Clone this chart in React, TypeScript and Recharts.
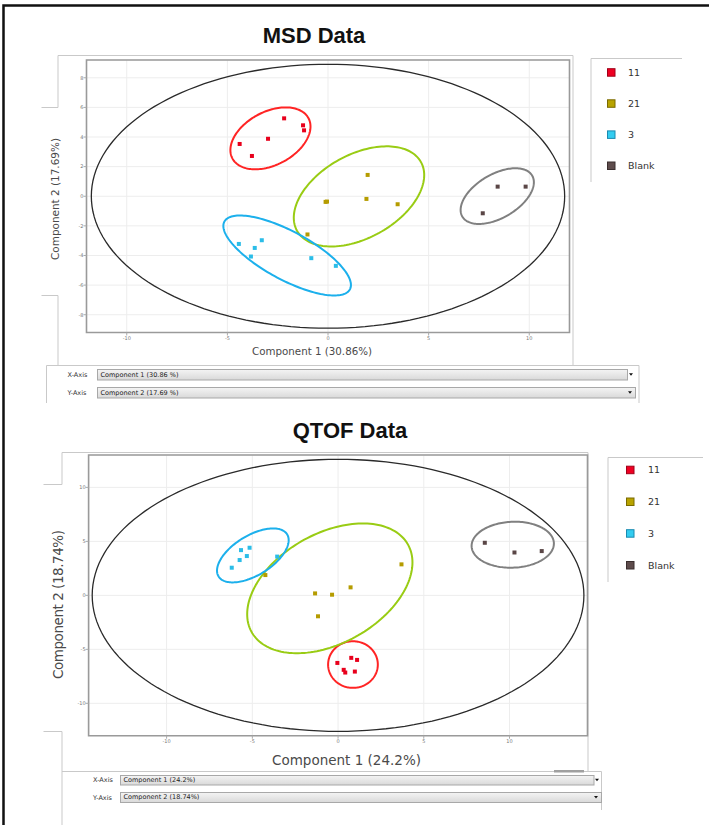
import React from 'react';
import { ScatterChart, Scatter, XAxis, YAxis, CartesianGrid, ReferenceArea } from 'recharts';

type Pt = { x: number; y: number };
type Ell = { cx: number; cy: number; rx: number; ry: number; tilt: number };

// ---------- Groups / legend ----------
const groupNames = ['11', '21', '3', 'Blank'];
const pointColors = ['#e8001c', '#b59c00', '#2bbde8', '#5a4646'];
const legendFills = ['#ee0022', '#b8a300', '#33ccf0', '#5e4c4c'];
const legendStrokes = ['#a00018', '#7a6a00', '#1a8ab0', '#3a2e2e'];
const ellipseColors = ['#ff2424', '#99cc14', '#1cb0ec', '#808080'];

// ---------- MSD data ----------
const msdTitle = 'MSD Data';
const msdXLabel = 'Component 1 (30.86%)';
const msdYLabel = 'Component 2 (17.69%)';
const msdXTicks = [-10, -5, 0, 5, 10];
const msdYTicks = [-8, -6, -4, -2, 0, 2, 4, 6, 8];
const msdXDomain: [number, number] = [-12, 12];
const msdYDomain: [number, number] = [-9.2, 9.2];

const msd11: Pt[] = [
  { x: -4.39, y: 3.53 }, { x: -3.78, y: 2.72 }, { x: -2.98, y: 3.88 },
  { x: -2.18, y: 5.26 }, { x: -1.24, y: 4.79 }, { x: -1.19, y: 4.45 },
];
const msd21: Pt[] = [
  { x: 1.97, y: 1.44 }, { x: -0.12, y: -0.38 }, { x: -0.05, y: -0.36 },
  { x: 1.91, y: -0.18 }, { x: 3.46, y: -0.54 }, { x: -1.02, y: -2.58 },
];
const msd3: Pt[] = [
  { x: -4.43, y: -3.22 }, { x: -3.29, y: -2.97 }, { x: -3.64, y: -3.49 },
  { x: -3.83, y: -4.07 }, { x: -0.83, y: -4.18 }, { x: 0.39, y: -4.7 },
];
const msdBlank: Pt[] = [
  { x: 8.43, y: 0.65 }, { x: 9.82, y: 0.65 }, { x: 7.69, y: -1.15 },
];
const msdOuter: Ell = { cx: 0, cy: 0, rx: 11.76, ry: 8.91, tilt: 0 };
const msdEll11: Ell = { cx: -2.86, cy: 3.91, rx: 1.99, ry: 2.09, tilt: 0.39 };
const msdEll21: Ell = { cx: 1.54, cy: -0.01, rx: 3.24, ry: 3.38, tilt: 0.44 };
const msdEll3: Ell = { cx: -2.03, cy: -4.0, rx: 3.17, ry: 2.7, tilt: -0.83 };
const msdEllBlank: Ell = { cx: 8.41, cy: 0.01, rx: 1.82, ry: 1.88, tilt: 0.52 };

// ---------- QTOF data ----------
const qtofTitle = 'QTOF Data';
const qtofXLabel = 'Component 1 (24.2%)';
const qtofYLabel = 'Component 2 (18.74%)';
const qtofXTicks = [-10, -5, 0, 5, 10];
const qtofYTicks = [-10, -5, 0, 5, 10];
const qtofXDomain: [number, number] = [-14.55, 14.55];
const qtofYDomain: [number, number] = [-13, 13];

const qtof11: Pt[] = [
  { x: -0.04, y: -6.26 }, { x: 0.77, y: -5.79 }, { x: 1.11, y: -5.98 },
  { x: 0.33, y: -6.9 }, { x: 0.42, y: -7.15 }, { x: 0.98, y: -7.06 },
];
const qtof21: Pt[] = [
  { x: -4.24, y: 1.88 }, { x: -1.34, y: 0.18 }, { x: -0.35, y: 0.06 },
  { x: 0.73, y: 0.74 }, { x: -1.17, y: -1.94 }, { x: 3.7, y: 2.87 },
];
const qtof3: Pt[] = [
  { x: -6.2, y: 2.56 }, { x: -5.74, y: 3.27 }, { x: -5.66, y: 4.19 },
  { x: -5.32, y: 3.64 }, { x: -5.16, y: 4.41 }, { x: -3.55, y: 3.59 },
];
const qtofBlank: Pt[] = [
  { x: 8.56, y: 4.87 }, { x: 10.29, y: 3.97 }, { x: 11.88, y: 4.1 },
];
const qtofOuter: Ell = { cx: 0, cy: 0, rx: 14.34, ry: 12.6, tilt: 0 };
const qtofEll11: Ell = { cx: 0.87, cy: -6.41, rx: 1.45, ry: 2.16, tilt: 0 };
const qtofEll21: Ell = { cx: -0.48, cy: 0.65, rx: 4.82, ry: 6.01, tilt: 0.41 };
const qtofEll3: Ell = { cx: -4.97, cy: 3.7, rx: 2.09, ry: 2.5, tilt: 0.6 };
const qtofEllBlank: Ell = { cx: 10.19, cy: 4.69, rx: 2.4, ry: 2.13, tilt: 0.05 };

// ---------- helpers ----------
const ellipsePoints = (e: Ell, n = 160): Pt[] => {
  const pts: Pt[] = [];
  for (let i = 0; i <= n; i++) {
    const t = (i / n) * 2 * Math.PI;
    pts.push({ x: e.cx + e.rx * Math.cos(t), y: e.cy + e.ry * Math.sin(t + e.tilt) });
  }
  return pts;
};

const squareShape = (color: string) => (props: any) => {
  const { cx, cy } = props;
  if (cx == null || cy == null) return <g />;
  return <rect x={cx - 2} y={cy - 2} width={4} height={4} fill={color} />;
};
const noShape = () => <g />;

type ChartProps = {
  top: number;
  height: number;
  margin: { top: number; right: number; bottom: number; left: number };
  xDomain: [number, number];
  yDomain: [number, number];
  xTicks: number[];
  yTicks: number[];
  groups: Pt[][];
  outer: Ell;
  ellipses: Ell[];
};

function PcaChart(p: ChartProps) {
  const tickStyle = { fontSize: 5, fill: '#777' };
  return (
    <div style={{ position: 'absolute', left: 0, top: p.top, width: 709, height: p.height, fontFamily: 'DejaVu Sans' }}>
      <ScatterChart width={709} height={p.height} margin={p.margin}>
        <CartesianGrid stroke="#ededed" strokeWidth={1} />
        <XAxis
          type="number"
          dataKey="x"
          domain={p.xDomain}
          ticks={p.xTicks}
          allowDataOverflow
          interval={0}
          height={10}
          axisLine={false}
          tickLine={{ stroke: '#aaa' }}
          tickSize={3}
          tickMargin={1}
          tick={tickStyle}
        />
        <YAxis
          type="number"
          dataKey="y"
          domain={p.yDomain}
          ticks={p.yTicks}
          allowDataOverflow
          interval={0}
          width={10}
          axisLine={false}
          tickLine={{ stroke: '#aaa' }}
          tickSize={3}
          tickMargin={0}
          tick={tickStyle}
        />
        <ReferenceArea
          x1={p.xDomain[0]}
          x2={p.xDomain[1]}
          y1={p.yDomain[0]}
          y2={p.yDomain[1]}
          fill="none"
          stroke="#9a9a9a"
          strokeWidth={1.6}
          ifOverflow="visible"
        />
        <Scatter
          data={ellipsePoints(p.outer)}
          line={{ stroke: '#2a2a2a', strokeWidth: 1.3 }}
          lineType="joint"
          shape={noShape}
          legendType="none"
          isAnimationActive={false}
        />
        {p.ellipses.map((e, i) => (
          <Scatter
            key={'e' + i}
            data={ellipsePoints(e)}
            line={{ stroke: ellipseColors[i], strokeWidth: 2 }}
            lineType="joint"
            shape={noShape}
            legendType="none"
            isAnimationActive={false}
          />
        ))}
        {p.groups.map((g, i) => (
          <Scatter
            key={'g' + i}
            name={groupNames[i]}
            data={g}
            fill={pointColors[i]}
            shape={squareShape(pointColors[i])}
            isAnimationActive={false}
          />
        ))}
      </ScatterChart>
    </div>
  );
}

const sans = 'DejaVu Sans, Verdana, sans-serif';
const titleFont = 'Liberation Sans, Arial, sans-serif';
const frame = '#c9c9c9';

function Legend({ x, textX, centers }: { x: number; textX: number; centers: number[] }) {
  return (
    <g>
      {groupNames.map((n, i) => (
        <g key={n}>
          <rect x={x + 0.5} y={centers[i] - 3.5} width={7.5} height={7.5} fill={legendFills[i]} stroke={legendStrokes[i]} strokeWidth={1} />
          <text x={textX} y={centers[i] + 3.5} fontSize={9.5} fontFamily={sans} fill="#333">{n}</text>
        </g>
      ))}
    </g>
  );
}

function Dropdown({ x, y, w, h, text, arrowX }: { x: number; y: number; w: number; h: number; text: string; arrowX: number }) {
  const cy = y + h / 2;
  return (
    <g>
      <rect x={x + 0.5} y={y + 0.5} width={w} height={h} fill="url(#ddgrad)" stroke="#a8a8a8" strokeWidth={1} />
      <text x={x + 3.5} y={cy + 2.3} fontSize={6.5} fontFamily={sans} fill="#222">{text}</text>
      <path d={`M${arrowX - 2},${cy - 1} L${arrowX + 2},${cy - 1} L${arrowX},${cy + 1.6} Z`} fill="#111" />
    </g>
  );
}

export default function App() {
  return (
    <div style={{ position: 'absolute', left: 0, top: 0, width: 709, height: 825, overflow: 'hidden', background: '#fff' }}>
      <svg width={709} height={825} style={{ position: 'absolute', left: 0, top: 0 }}>
        <defs>
          <linearGradient id="ddgrad" x1="0" y1="0" x2="0" y2="1">
            <stop offset="0" stopColor="#f4f4f4" />
            <stop offset="1" stopColor="#d9d9d9" />
          </linearGradient>
        </defs>
        {/* outer page border */}
        <path d="M3.5,825 L3.5,5.5 L709,5.5" fill="none" stroke="#111" strokeWidth={2.5} />

        {/* top panel frame */}
        <path d="M58,107.5 L58,55.5 L573,55.5 L573,365" fill="none" stroke={frame} />
        <path d="M41.5,107.5 L58,107.5" fill="none" stroke={frame} />
        <path d="M41.5,295.5 L58,295.5 L58,365" fill="none" stroke={frame} />
        <path d="M46.5,403 L46.5,365.5 L639,365.5 L639,403" fill="none" stroke={frame} />
        <path d="M591,182 L591,58.5 L682,58.5" fill="none" stroke={frame} />

        {/* bottom panel frame */}
        <path d="M62,484.5 L62,452.5 L588,452.5 L588,772" fill="none" stroke={frame} />
        <path d="M43.5,484.5 L62,484.5" fill="none" stroke={frame} />
        <path d="M43.5,731.5 L62,731.5 L62,825" fill="none" stroke={frame} />
        <path d="M62,771.5 L601.5,771.5 L601.5,810" fill="none" stroke={frame} />
        <rect x={554} y={770} width={30} height={2.5} fill="#a0a0a0" />
        <path d="M608,582 L608,457.5 L703,457.5" fill="none" stroke={frame} />

        {/* titles */}
        <text x={314} y={43} textAnchor="middle" fontSize={22} fontWeight="bold" fontFamily={titleFont} fill="#111">{msdTitle}</text>
        <text x={350} y={438} textAnchor="middle" fontSize={22} fontWeight="bold" fontFamily={titleFont} fill="#111">{qtofTitle}</text>

        {/* axis titles */}
        <text x={312} y={355} textAnchor="middle" fontSize={10.5} fontFamily={sans} fill="#4a4a4a" textLength={120} lengthAdjust="spacingAndGlyphs">{msdXLabel}</text>
        <text transform="translate(58.5,199) rotate(-90)" textAnchor="middle" fontSize={10.5} fontFamily={sans} fill="#4a4a4a" textLength={122} lengthAdjust="spacingAndGlyphs">{msdYLabel}</text>
        <text x={346.5} y={765} textAnchor="middle" fontSize={13.5} fontFamily={sans} fill="#4a4a4a" textLength={149} lengthAdjust="spacing">{qtofXLabel}</text>
        <text transform="translate(63,604.5) rotate(-90)" textAnchor="middle" fontSize={13.5} fontFamily={sans} fill="#4a4a4a" textLength={149} lengthAdjust="spacing">{qtofYLabel}</text>

        {/* legends */}
        <Legend x={607} textX={628} centers={[72.2, 103.3, 134.4, 165.5]} />
        <Legend x={626} textX={648} centers={[469.7, 501.5, 533.2, 565]} />

        {/* axis selectors */}
        <text x={67.5} y={376.5} fontSize={6.5} fontFamily={sans} fill="#333">X-Axis</text>
        <Dropdown x={97} y={369} w={530} h={10.5} text="Component 1 (30.86 %)" arrowX={631} />
        <text x={67.5} y={395} fontSize={6.5} fontFamily={sans} fill="#333">Y-Axis</text>
        <Dropdown x={97} y={387} w={538} h={10.5} text="Component 2 (17.69 %)" arrowX={630} />

        <text x={93} y={781.5} fontSize={6.5} fontFamily={sans} fill="#333">X-Axis</text>
        <Dropdown x={120} y={775} w={473.5} h={9.5} text="Component 1 (24.2%)" arrowX={597} />
        <text x={93} y={799.5} fontSize={6.5} fontFamily={sans} fill="#333">Y-Axis</text>
        <Dropdown x={120} y={792} w={481} h={10} text="Component 2 (18.74%)" arrowX={596} />
      </svg>

      <PcaChart
        top={0}
        height={400}
        margin={{ top: 60, right: 139.5, bottom: 57.5, left: 76.5 }}
        xDomain={msdXDomain}
        yDomain={msdYDomain}
        xTicks={msdXTicks}
        yTicks={msdYTicks}
        groups={[msd11, msd21, msd3, msdBlank]}
        outer={msdOuter}
        ellipses={[msdEll11, msdEll21, msdEll3, msdEllBlank]}
      />
      <PcaChart
        top={400}
        height={425}
        margin={{ top: 55, right: 121.5, bottom: 79.3, left: 78.6 }}
        xDomain={qtofXDomain}
        yDomain={qtofYDomain}
        xTicks={qtofXTicks}
        yTicks={qtofYTicks}
        groups={[qtof11, qtof21, qtof3, qtofBlank]}
        outer={qtofOuter}
        ellipses={[qtofEll11, qtofEll21, qtofEll3, qtofEllBlank]}
      />
    </div>
  );
}
